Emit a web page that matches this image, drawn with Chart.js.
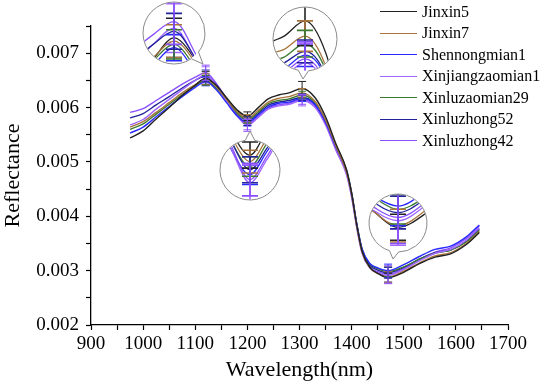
<!DOCTYPE html>
<html>
<head>
<meta charset="utf-8">
<script src="https://cdn.jsdelivr.net/npm/chart.js@4.4.0/dist/chart.umd.min.js"></script>
<style>
body { margin: 0; background: #fff; }
.container { position: relative; width: 550px; height: 385px; }
#legenda { position: absolute; left: 380px; top: 1px; font-family: "Liberation Serif", "Times New Roman", serif; font-size: 16px; color: #000; }
.item { height: 21.5px; display: flex; align-items: center; white-space: nowrap; }
.linha { display: inline-block; width: 37px; height: 0; border-top: 1.2px solid; margin-right: 5px; }
</style>
</head>
<body>
<div class="container">
  <canvas id="grafico" width="550" height="385"></canvas>
  <div id="legenda"></div>
</div>
<script>
const wavelengths = [975, 1000, 1025, 1050, 1075, 1100, 1120, 1140, 1160, 1180, 1200, 1220, 1240, 1260, 1280, 1305,
    1330, 1350, 1370, 1390, 1400, 1410, 1420, 1435, 1450, 1470, 1500, 1530, 1560, 1590, 1620, 1645];

const nomes = ['Jinxin5', 'Jinxin7', 'Shennongmian1', 'Xinjiangzaomian1', 'Xinluzaomian29', 'Xinluzhong52', 'Xinluzhong42'];

const jinxin5 = [0.00544, 0.00557, 0.00579, 0.00600, 0.00622, 0.00641, 0.00654, 0.00641, 0.00618, 0.00596, 0.00584,
    0.00599, 0.00616, 0.00623, 0.00627, 0.00635, 0.00618, 0.00583, 0.00533, 0.00486, 0.00442, 0.00383, 0.00336,
    0.00306, 0.00295, 0.00287, 0.00297, 0.00313, 0.00325, 0.00331, 0.00348, 0.00370];
const jinxin7 = [0.00564, 0.00574, 0.00591, 0.00609, 0.00627, 0.00642, 0.00652, 0.00639, 0.00615, 0.00593, 0.00580,
    0.00594, 0.00610, 0.00617, 0.00620, 0.00627, 0.00611, 0.00577, 0.00529, 0.00482, 0.00440, 0.00381, 0.00334,
    0.00305, 0.00295, 0.00288, 0.00299, 0.00314, 0.00327, 0.00333, 0.00350, 0.00372];
const shennongmian1 = [0.00553, 0.00564, 0.00583, 0.00602, 0.00620, 0.00637, 0.00648, 0.00633, 0.00609, 0.00585, 0.00572,
    0.00586, 0.00601, 0.00608, 0.00610, 0.00617, 0.00605, 0.00573, 0.00527, 0.00484, 0.00442, 0.00385, 0.00340,
    0.00313, 0.00305, 0.00300, 0.00311, 0.00326, 0.00339, 0.00345, 0.00362, 0.00384];
const xinjiangzaomian1 = [0.00568, 0.00578, 0.00597, 0.00615, 0.00633, 0.00650, 0.00660, 0.00641, 0.00612, 0.00585, 0.00567,
    0.00581, 0.00597, 0.00603, 0.00606, 0.00613, 0.00600, 0.00568, 0.00521, 0.00477, 0.00435, 0.00378, 0.00332,
    0.00305, 0.00296, 0.00291, 0.00302, 0.00318, 0.00332, 0.00339, 0.00356, 0.00379];
const xinluzaomian29 = [0.00560, 0.00570, 0.00588, 0.00606, 0.00624, 0.00640, 0.00650, 0.00636, 0.00613, 0.00590, 0.00577,
    0.00591, 0.00607, 0.00613, 0.00616, 0.00623, 0.00609, 0.00577, 0.00530, 0.00486, 0.00444, 0.00386, 0.00340,
    0.00312, 0.00304, 0.00298, 0.00307, 0.00321, 0.00332, 0.00338, 0.00353, 0.00374];
const xinluzhong52 = [0.00581, 0.00589, 0.00605, 0.00620, 0.00636, 0.00650, 0.00658, 0.00642, 0.00616, 0.00590, 0.00575,
    0.00588, 0.00604, 0.00610, 0.00613, 0.00619, 0.00606, 0.00573, 0.00527, 0.00483, 0.00441, 0.00383, 0.00338,
    0.00310, 0.00301, 0.00296, 0.00306, 0.00321, 0.00333, 0.00338, 0.00354, 0.00376];
const xinluzhong42 = [0.00591, 0.00598, 0.00613, 0.00628, 0.00643, 0.00656, 0.00664, 0.00645, 0.00616, 0.00587, 0.00569,
    0.00583, 0.00599, 0.00605, 0.00608, 0.00615, 0.00602, 0.00570, 0.00523, 0.00479, 0.00437, 0.00380, 0.00334,
    0.00307, 0.00298, 0.00293, 0.00304, 0.00321, 0.00334, 0.00342, 0.00359, 0.00382];

// desvio padrao em 1120, 1200, 1305 e 1470 nm
const errWavelengths = [1120, 1200, 1305, 1470];
const erroJinxin5 = [0.00012, 0.00008, 0.00013, 0.00008];
const erroJinxin7 = [0.00010, 0.00007, 0.00008, 0.00010];
const erroShennongmian1 = [0.00008, 0.00006, 0.00006, 0.00012];
const erroXinjiangzaomian1 = [0.00015, 0.00011, 0.00010, 0.00015];
const erroXinluzaomian29 = [0.00009, 0.00006, 0.00007, 0.00009];
const erroXinluzhong52 = [0.00011, 0.00008, 0.00006, 0.00010];
const erroXinluzhong42 = [0.00014, 0.00010, 0.00009, 0.00016];

const xTicks = [900, 1000, 1100, 1200, 1300, 1400, 1500, 1600, 1700];
const yTicks = [0.002, 0.003, 0.004, 0.005, 0.006, 0.007];

const valores = [jinxin5, jinxin7, shennongmian1, xinjiangzaomian1, xinluzaomian29, xinluzhong52, xinluzhong42];
const erros = [erroJinxin5, erroJinxin7, erroShennongmian1, erroXinjiangzaomian1, erroXinluzaomian29, erroXinluzhong52, erroXinluzhong42];
const cores = ['#222222', '#a8743c', '#2a2aff', '#a066ff', '#3d7a32', '#22229a', '#8a50ff'];

const fonte = '"Liberation Serif", "Times New Roman", serif';

// lupas (circulos ampliados)
const lupas = [
    { nm: 1120, cx: 174, cy: 33, r: 31, dy: 3, kx: 2, ky: 3, ponta: [203, 64] },
    { nm: 1305, cx: 305, cy: 39, r: 32, dy: 8, kx: 1.6, ky: 3.5, ponta: [303, 79] },
    { nm: 1200, cx: 250, cy: 170, r: 30, dy: 0, kx: 1.6, ky: 3, ponta: [250, 131] },
    { nm: 1470, cx: 398, cy: 223, r: 29, dy: -6, kx: 2, ky: 3, ponta: [393, 259] }
];

function tracarCurva(ctx, pts) {
    ctx.moveTo(pts[0].x, pts[0].y);
    for (let i = 1; i < pts.length; i++) {
        const p = pts[i - 1], q = pts[i];
        if (p.cp2x !== undefined && q.cp1x !== undefined) {
            ctx.bezierCurveTo(p.cp2x, p.cp2y, q.cp1x, q.cp1y, q.x, q.y);
        } else {
            ctx.lineTo(q.x, q.y);
        }
    }
}

function desenharBarra(ctx, px, y1, y2, meia) {
    ctx.beginPath();
    ctx.moveTo(px, y1); ctx.lineTo(px, y2);
    ctx.moveTo(px - meia, y1); ctx.lineTo(px + meia, y1);
    ctx.moveTo(px - meia, y2); ctx.lineTo(px + meia, y2);
    ctx.stroke();
}

const barrasErro = {
    id: 'barrasErro',
    afterDatasetsDraw(chart) {
        const ctx = chart.ctx;
        const sx = chart.scales.x, sy = chart.scales.y;
        ctx.save();
        ctx.lineWidth = 1;
        valores.forEach((serie, i) => {
            ctx.strokeStyle = cores[i];
            errWavelengths.forEach((nm, j) => {
                const k = wavelengths.indexOf(nm);
                const px = sx.getPixelForValue(nm);
                desenharBarra(ctx, px, sy.getPixelForValue(serie[k] + erros[i][j]), sy.getPixelForValue(serie[k] - erros[i][j]), 4);
            });
        });
        ctx.restore();
    }
};

const lupaPlugin = {
    id: 'lupa',
    afterDraw(chart) {
        const ctx = chart.ctx;
        const sx = chart.scales.x, sy = chart.scales.y;
        lupas.forEach(l => {
            const k = wavelengths.indexOf(l.nm);
            const media = valores.reduce((s, v) => s + v[k], 0) / valores.length;
            const ax = sx.getPixelForValue(l.nm), ay = sy.getPixelForValue(media);
            const ox = l.cx, oy = l.cy + l.dy;
            const ang = Math.atan2(l.ponta[1] - l.cy, l.ponta[0] - l.cx);

            ctx.save();
            ctx.beginPath();
            ctx.arc(l.cx, l.cy, l.r, ang + 0.16, ang - 0.16 + Math.PI * 2);
            ctx.lineTo(l.ponta[0], l.ponta[1]);
            ctx.closePath();
            ctx.fillStyle = '#fff';
            ctx.fill();
            ctx.strokeStyle = '#8a8a8a';
            ctx.lineWidth = 1;
            ctx.stroke();

            ctx.beginPath();
            ctx.arc(l.cx, l.cy, l.r - 0.5, 0, Math.PI * 2);
            ctx.clip();

            chart.data.datasets.forEach((ds, i) => {
                const pts = chart.getDatasetMeta(i).data;
                ctx.save();
                ctx.translate(ox, oy);
                ctx.scale(l.kx, l.ky);
                ctx.translate(-ax, -ay);
                ctx.beginPath();
                tracarCurva(ctx, pts);
                ctx.restore();
                ctx.strokeStyle = cores[i];
                ctx.lineWidth = 1.3;
                ctx.stroke();
            });

            const j = errWavelengths.indexOf(l.nm);
            ctx.lineWidth = 1.6;
            valores.forEach((serie, i) => {
                ctx.strokeStyle = cores[i];
                const y1 = oy + (sy.getPixelForValue(serie[k] + erros[i][j]) - ay) * l.ky;
                const y2 = oy + (sy.getPixelForValue(serie[k] - erros[i][j]) - ay) * l.ky;
                desenharBarra(ctx, ox, y1, y2, 8);
            });
            ctx.restore();
        });
    }
};

function desenharGrafico() {
    const datasets = valores.map((serie, i) => ({
        label: nomes[i],
        data: serie.map((v, k) => ({ x: wavelengths[k], y: v })),
        borderColor: cores[i],
        backgroundColor: cores[i],
        borderWidth: 1.4,
        pointRadius: 0,
        tension: 0.4,
        cubicInterpolationMode: 'monotone',
        fill: false
    }));

    const eixo = {
        type: 'linear',
        border: { display: true, color: '#000', width: 1.3 },
        grid: { display: true, drawOnChartArea: false, drawTicks: true, tickLength: 5, color: '#000', tickWidth: 1.2 },
    };

    const config = {
        type: 'line',
        data: { datasets: datasets },
        options: {
            responsive: false,
            animation: false,
            layout: { padding: { top: 26, right: 42, left: 0, bottom: 0 } },
            plugins: {
                legend: { display: false },
                tooltip: { enabled: false }
            },
            scales: {
                x: {
                    ...eixo,
                    min: 900,
                    max: 1700,
                    afterFit: s => { s.height = 60; },
                    ticks: {
                        stepSize: 50,
                        autoSkip: false,
                        maxRotation: 0,
                        padding: 3,
                        color: '#000',
                        font: { family: fonte, size: 19 },
                        callback: v => xTicks.includes(v) ? String(v) : ''
                    },
                    title: {
                        display: true,
                        text: 'Wavelength(nm)',
                        color: '#000',
                        font: { family: fonte, size: 22 },
                        padding: { top: 0, bottom: 2 }
                    }
                },
                y: {
                    ...eixo,
                    min: 0.002,
                    max: 0.0075,
                    afterFit: s => { s.width = 91; },
                    ticks: {
                        stepSize: 0.0005,
                        autoSkip: false,
                        padding: 7,
                        color: '#000',
                        font: { family: fonte, size: 19 },
                        callback: v => {
                            const t = yTicks.find(a => Math.abs(a - v) < 1e-9);
                            return t !== undefined ? t.toFixed(3) : '';
                        }
                    },
                    title: {
                        display: true,
                        text: 'Reflectance',
                        color: '#000',
                        font: { family: fonte, size: 22 },
                        padding: 0
                    }
                }
            }
        },
        plugins: [barrasErro, lupaPlugin]
    };

    new Chart(document.getElementById('grafico'), config);

    const legenda = document.getElementById('legenda');
    nomes.forEach((n, i) => {
        const item = document.createElement('div');
        item.className = 'item';
        item.innerHTML = '<span class="linha" style="border-color:' + cores[i] + '"></span>' + n;
        legenda.appendChild(item);
    });
}

desenharGrafico();
</script>
</body>
</html>
